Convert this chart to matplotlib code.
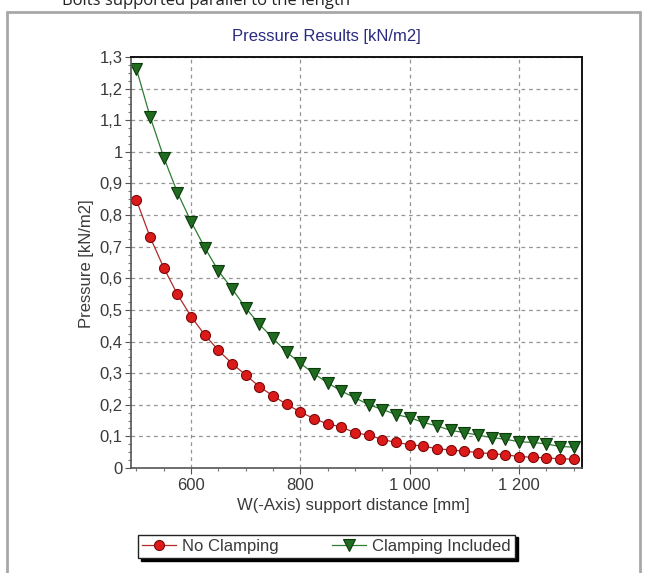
import matplotlib
matplotlib.use('Agg')
import matplotlib.pyplot as plt
from matplotlib.ticker import MultipleLocator, FuncFormatter
from matplotlib.patches import Rectangle

plt.rcParams['font.family'] = ['Liberation Sans', 'DejaVu Sans']

# W(-Axis) support distance [mm]
distance_mm = [500, 525, 550, 575, 600, 625, 650, 675, 700, 725, 750,
               775, 800, 825, 850, 875, 900, 925, 950, 975, 1000, 1025,
               1050, 1075, 1100, 1125, 1150, 1175, 1200, 1225, 1250, 1275, 1300]

# Pressure [kN/m2]
no_clamping = [0.847, 0.730, 0.633, 0.549, 0.479, 0.421, 0.372, 0.330, 0.294,
               0.257, 0.228, 0.201, 0.177, 0.156, 0.139, 0.130, 0.111, 0.104,
               0.090, 0.081, 0.074, 0.069, 0.061, 0.057, 0.053, 0.049, 0.045,
               0.042, 0.036, 0.034, 0.032, 0.029, 0.028]
clamping_included = [1.262, 1.111, 0.982, 0.871, 0.779, 0.697, 0.623, 0.567, 0.506,
                     0.454, 0.410, 0.366, 0.331, 0.298, 0.269, 0.243, 0.222, 0.200,
                     0.185, 0.169, 0.159, 0.144, 0.133, 0.119, 0.112, 0.104, 0.096,
                     0.091, 0.083, 0.081, 0.076, 0.068, 0.066]

W, H = 648, 573
fig = plt.figure(figsize=(W / 100, H / 100), dpi=100)
fig.patch.set_facecolor('white')

# grauer Rahmen um das Diagramm (unten abgeschnitten)
frame = Rectangle((7 / W, -0.1), (640 - 7) / W, 1 - 12 / H + 0.1,
                  transform=fig.transFigure, fill=False,
                  edgecolor='#a8a8a8', linewidth=2, clip_on=False)
fig.patches.append(frame)

# abgeschnittene Überschrift ganz oben
fig.text(62 / W, 1 - 5 / H, 'Bolts supported parallel to the length',
         fontsize=12, family=['Open Sans', 'DejaVu Sans'], color='#222222',
         va='baseline', ha='left')

ax = fig.add_axes([131 / W, 1 - 468 / H, 451 / W, 411 / H])

ax.plot(distance_mm, no_clamping, color='#b02a2a', linewidth=0.9,
        marker='o', markersize=7.2, markerfacecolor='#dd1a1a',
        markeredgecolor='#7a0a0a', markeredgewidth=0.8, label='No Clamping')
ax.plot(distance_mm, clamping_included, color='#2e7d32', linewidth=0.9,
        marker='v', markersize=9, markerfacecolor='#1f6b1f',
        markeredgecolor='#0b3a0b', markeredgewidth=0.8, label='Clamping Included')

ax.set_xlim(490, 1315)
ax.set_ylim(0, 1.3)

ax.xaxis.set_major_locator(MultipleLocator(200))
ax.xaxis.set_minor_locator(MultipleLocator(50))
ax.yaxis.set_major_locator(MultipleLocator(0.1))
ax.yaxis.set_minor_locator(MultipleLocator(0.025))

ax.xaxis.set_major_formatter(FuncFormatter(lambda v, _: f'{int(round(v)):,}'.replace(',', ' ')))
ax.yaxis.set_major_formatter(FuncFormatter(lambda v, _: ('%g' % round(v, 2)).replace('.', ',')))

ax.tick_params(axis='both', which='major', direction='out', length=4,
               width=0.8, color='#555555', labelsize=12, labelcolor='#3a3a3a')
ax.tick_params(axis='both', which='minor', direction='out', length=2.5,
               width=0.8, color='#777777')
ax.tick_params(axis='y', which='major', pad=2)
ax.tick_params(axis='x', which='major', pad=3.5)

ax.grid(True, which='major', color='#949494', linestyle=(0, (3, 3)), linewidth=0.9)
ax.set_axisbelow(True)

for side in ['top', 'right']:
    ax.spines[side].set_color('#111111')
    ax.spines[side].set_linewidth(1.4)
for side in ['left', 'bottom']:
    ax.spines[side].set_color('#555555')
    ax.spines[side].set_linewidth(1.2)

fig.text(326 / W, 1 - 36.6 / H, 'Pressure Results [kN/m2]', fontsize=12,
         color='#2a2a80', ha='center', va='center')
fig.text(353 / W, 1 - 505.5 / H, 'W(-Axis) support distance [mm]', fontsize=12,
         color='#3a3a3a', ha='center', va='center')
fig.text(86.8 / W, 1 - 263.7 / H, 'Pressure [kN/m2]', fontsize=12, rotation=90,
         color='#3a3a3a', ha='center', va='center')

leg = ax.legend(loc='lower left', ncol=2, mode='expand', borderaxespad=0,
                bbox_to_anchor=(138 / W, 1 - 558 / H, 377 / W, 22 / H),
                bbox_transform=fig.transFigure, fontsize=12,
                frameon=True, fancybox=False, framealpha=1,
                edgecolor='#222222', borderpad=0.25, handlelength=2.0,
                handletextpad=0.4, shadow={'color': 'black', 'alpha': 1})
leg.get_frame().set_linewidth(1.0)
for t in leg.get_texts():
    t.set_color('#3a3a3a')

fig.savefig('out.png', dpi=100)
